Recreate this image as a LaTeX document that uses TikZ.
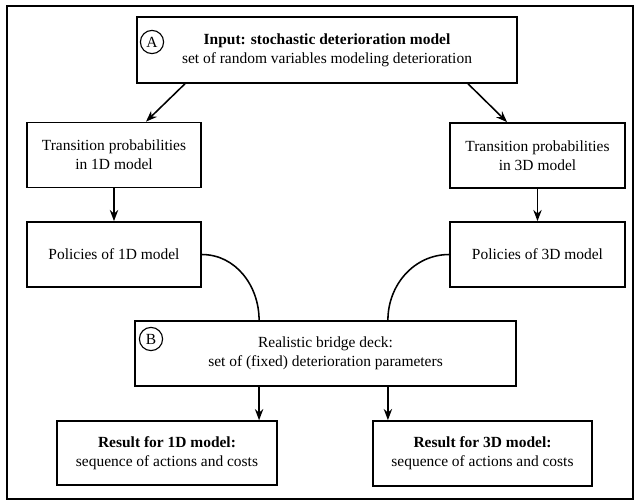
\documentclass[tikz,border=0pt]{standalone}
\usepackage{fontspec}
\setmainfont{Liberation Serif}
\usepackage{tikz}
\usetikzlibrary{arrows.meta, positioning}

\begin{document}
\begin{tikzpicture}[x=0.025cm, y=-0.025cm, >=Stealth, 
		box/.style={rectangle, draw=black, line width=1.1pt, minimum height=1.63cm, align=center, font=\fontsize{11pt}{13.5pt}\selectfont},
		tag/.style={circle, draw=black, line width=0.8pt, minimum size=0.58cm, inner sep=0pt, font=\fontsize{11pt}{13.5pt}\selectfont}]
		
		\useasboundingbox (0,0) rectangle (639,502);
		\draw[line width=1.1pt] (7,6) rectangle (633,499);
		
		\node[box, minimum width=9.5cm, minimum height=1.65cm] (A) at (327, 50) {\textbf{Input: stochastic deterioration model}\\set of random variables modeling deterioration};
		\node[tag] (tagA) at (152, 42) {A};
		
		\node[box, minimum width=4.35cm] (T1) at (114, 155) {Transition probabilities\\in 1D model};
		\node[box, minimum width=4.35cm] (P1) at (114, 254.5) {Policies of 1D model};
		
		\node[box, minimum width=4.375cm] (T3) at (537.5, 155.5) {Transition probabilities\\in 3D model};
		\node[box, minimum width=4.375cm] (P3) at (537.5, 254.5) {Policies of 3D model};
		
		\node[box, minimum width=9.525cm] (B) at (325.5, 353.5) {Realistic bridge deck:\\set of (fixed) deterioration parameters};
		\node[tag] (tagB) at (151, 339) {B};
		
		\node[box, minimum width=5.5cm, minimum height=1.6cm] (R1) at (167, 453) {\textbf{Result for 1D model:}\\sequence of actions and costs};
		\node[box, minimum width=5.475cm] (R3) at (482.5, 453.5) {\textbf{Result for 3D model:}\\sequence of actions and costs};
		
		\draw[->, line width=1.1pt] ([xshift=-3.55cm]A.south) -- ([xshift=0.8cm]T1.north);
		\draw[->, line width=1.1pt] ([xshift=3.525cm]A.south) -- ([xshift=-0.76cm]T3.north);
		\draw[->, line width=1.1pt] (T1) -- (P1);
		\draw[->, line width=1.1pt] (T3) -- (P3);
		
		\draw[line width=1.1pt] (P1.east) to[out=0, in=90] ([xshift=-1.66cm]B.north);
		\draw[line width=1.1pt] (P3.west) to[out=180, in=90] ([xshift=1.56cm]B.north);
		
		\draw[->, line width=1.1pt] ([xshift=-1.66cm]B.south) -- ([xshift=-1.66cm]B.south |- R1.north);
		\draw[->, line width=1.1pt] ([xshift=1.56cm]B.south) -- ([xshift=1.56cm]B.south |- R3.north);
		
	\end{tikzpicture}
\end{document}
